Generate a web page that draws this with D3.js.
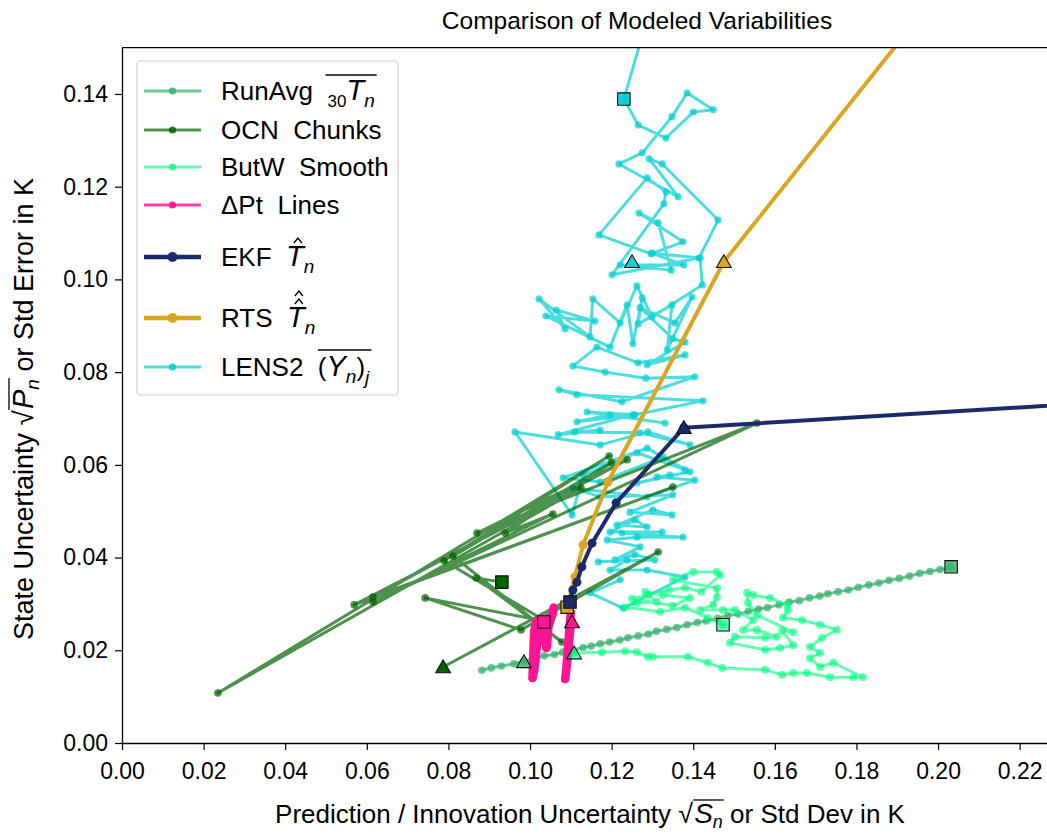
<!DOCTYPE html>
<html>
<head>
<meta charset="utf-8">
<script src="https://cdn.jsdelivr.net/npm/d3@7"></script>
<style>
  body { margin: 0; background: #fff; }
  text { font-family: "Liberation Sans", Arial, sans-serif; fill: #000; }
</style>
</head>
<body>
<svg id="chart" width="1047" height="834"></svg>
<script>
// ---- data (x = sqrt(S_n) / std dev, y = sqrt(P_n) / std error, K)
const xTicks = [0, 0.02, 0.04, 0.06, 0.08, 0.10, 0.12, 0.14, 0.16, 0.18, 0.20, 0.22];
const yTicks = [0, 0.02, 0.04, 0.06, 0.08, 0.10, 0.12, 0.14];
const xDomain = [0, 0.2267];
const yDomain = [0, 0.15];

const runAvg = [
  [0.0882,0.0157],[0.0905,0.0162],[0.0930,0.0166],[0.0960,0.0171],[0.0985,0.0177],[0.1010,0.0182],
  [0.1035,0.0188],[0.1060,0.0191],[0.1080,0.0196],[0.1105,0.0200],[0.1130,0.0206],[0.1150,0.0209],
  [0.1172,0.0214],[0.1195,0.0218],[0.1220,0.0222],[0.1240,0.0227],[0.1265,0.0231],[0.1290,0.0235],
  [0.1310,0.0241],[0.1335,0.0245],[0.1360,0.0249],[0.1385,0.0255],[0.1410,0.0260],[0.1432,0.0263],
  [0.1460,0.0269],[0.1485,0.0275],[0.1510,0.0278],[0.1535,0.0284],[0.1560,0.0289],[0.1582,0.0292],
  [0.1610,0.0298],[0.1635,0.0304],[0.1660,0.0307],[0.1685,0.0313],[0.1710,0.0317],[0.1730,0.0322],
  [0.1755,0.0326],[0.1780,0.0330],[0.1805,0.0336],[0.1830,0.0341],[0.1855,0.0345],[0.1880,0.0351],
  [0.1905,0.0355],[0.1930,0.0360],[0.1955,0.0366],[0.1980,0.0370],[0.2005,0.0374],[0.2032,0.0380]
];
const runAvgStart = [0.0985, 0.0175], runAvgEnd = [0.2032, 0.0380];

const ocnChunks = [
  [0.0787,0.0164],[0.1314,0.0412],[0.0978,0.0244],[0.0743,0.0313],[0.1040,0.0262],[0.0789,0.0393],
  [0.1194,0.0619],[0.0235,0.0108],[0.1125,0.0550],[0.0569,0.0298],[0.1350,0.0552],[0.0615,0.0315],
  [0.1238,0.0611],[0.0870,0.0453],[0.1556,0.0690],[0.0615,0.0304],[0.1056,0.0494],[0.0939,0.0453],
  [0.1200,0.0605],[0.0811,0.0403],[0.1078,0.0218],[0.0868,0.0356],[0.0931,0.0347]
];
const ocnStart = [0.0787, 0.0164], ocnEnd = [0.0931, 0.0347];

const butwSmooth = [
  [0.1108,0.0194],[0.1176,0.0196],[0.1233,0.0198],[0.1262,0.0196],[0.1289,0.0186],[0.1301,0.0186],
  [0.1387,0.0186],[0.1436,0.0173],[0.1471,0.0162],[0.1576,0.0158],[0.1618,0.0147],[0.1645,0.0151],
  [0.1679,0.0151],[0.1735,0.0142],[0.1792,0.0142],[0.1816,0.0142],[0.1743,0.0173],[0.1711,0.0164],
  [0.1686,0.0183],[0.1711,0.0194],[0.1686,0.0207],[0.1716,0.0227],[0.1752,0.0244],[0.1711,0.0255],
  [0.1667,0.0265],[0.1620,0.0270],[0.1632,0.0287],[0.1630,0.0298],[0.1588,0.0313],[0.1547,0.0319],
  [0.1532,0.0324],[0.1534,0.0302],[0.1556,0.0276],[0.1645,0.0239],[0.1618,0.0242],[0.1645,0.0211],
  [0.1613,0.0205],[0.1576,0.0201],[0.1490,0.0216],[0.1502,0.0229],[0.1576,0.0227],[0.1605,0.0229],
  [0.1556,0.0244],[0.1522,0.0244],[0.1547,0.0265],[0.1502,0.0287],[0.1473,0.0287],[0.1417,0.0287],
  [0.1449,0.0298],[0.1458,0.0315],[0.1458,0.0334],[0.1350,0.0352],[0.1400,0.0369],[0.1458,0.0369],
  [0.1466,0.0362],[0.1420,0.0326],[0.1380,0.0335],[0.1340,0.0330],[0.1290,0.0320],[0.1250,0.0311],
  [0.1350,0.0296],[0.1392,0.0313],[0.1326,0.0319],[0.1282,0.0326],[0.1311,0.0304],[0.1262,0.0302],
  [0.1233,0.0293],[0.1319,0.0283],[0.1380,0.0292],[0.1436,0.0270],[0.1473,0.0255]
];
const butwStart = [0.1108, 0.0194], butwEnd = [0.1473, 0.0255];

const deltaPtA = [
  [0.1058,0.0292],[0.1052,0.0270],[0.1045,0.0250],[0.1043,0.0230],[0.1042,0.0210],[0.1040,0.0205],
  [0.1036,0.0225],[0.1025,0.0250],[0.1015,0.0262],[0.1010,0.0240],[0.1009,0.0215],[0.1008,0.0190],
  [0.1007,0.0165],[0.1006,0.0140],[0.1010,0.0155],[0.1014,0.0185],[0.1018,0.0220],[0.1030,0.0245],
  [0.1048,0.0262],[0.1056,0.0280]
];
const deltaPtB = [
  [0.1100,0.0282],[0.1098,0.0262],[0.1096,0.0240],[0.1094,0.0218],[0.1092,0.0195],[0.1090,0.0172],
  [0.1088,0.0150],[0.1086,0.0138],[0.1089,0.0158],[0.1092,0.0185],[0.1095,0.0212],[0.1098,0.0240],
  [0.1101,0.0265]
];
const deltaPtEnd = [0.1034, 0.0261], deltaPtStart = [0.1103, 0.0261];

const ekf = [
  [0.2600,0.0745],[0.1377,0.0680],[0.1211,0.0518],[0.1152,0.0431],[0.1127,0.0380],
  [0.1115,0.0347],[0.1105,0.0330],[0.1098,0.0304]
];
const ekfStart = [0.1377, 0.0680], ekfEnd = [0.1098, 0.0304];

const rts = [
  [0.1091,0.0293],[0.1110,0.0358],[0.1130,0.0427],[0.1191,0.0563],[0.1475,0.1038],[0.2000,0.1618]
];
const rtsStart = [0.1475, 0.1038], rtsEnd = [0.1091, 0.0293];

const lens2 = [
  [0.1272,0.1517],[0.1230,0.1389],[0.1265,0.1333],[0.1333,0.1305],[0.1400,0.1361],[0.1449,0.1366],
  [0.1385,0.1402],[0.1348,0.1351],[0.1275,0.1273],[0.1218,0.1249],[0.1363,0.1178],[0.1292,0.1260],
  [0.1324,0.1249],[0.1461,0.1128],[0.1414,0.1046],[0.1201,0.1010],[0.1328,0.1163],[0.1333,0.1189],
  [0.1287,0.1219],[0.1169,0.1096],[0.1297,0.1055],[0.1375,0.1081],[0.1267,0.1143],[0.1314,0.1122],
  [0.1346,0.1020],[0.1221,0.1031],[0.1377,0.1031],[0.1299,0.1057],[0.1417,0.1046],[0.1422,0.0988],
  [0.1299,0.0919],[0.1262,0.0986],[0.1221,0.0906],[0.1154,0.0958],[0.1147,0.0876],[0.1022,0.0958],
  [0.1086,0.0893],[0.1064,0.0934],[0.1159,0.0910],[0.1039,0.0921],[0.1196,0.0854],[0.1238,0.0945],
  [0.1252,0.0861],[0.1275,0.0960],[0.1265,0.0904],[0.1348,0.0945],[0.1336,0.0848],[0.1397,0.0962],
  [0.1355,0.0906],[0.1270,0.0939],[0.1350,0.0872],[0.1380,0.0865],[0.1287,0.0816],[0.1380,0.0837],
  [0.1265,0.0820],[0.1164,0.0854],[0.1105,0.0813],[0.1184,0.0800],[0.1284,0.0787],[0.1404,0.0790],
  [0.1225,0.0736],[0.1071,0.0762],[0.1115,0.0751],[0.1424,0.0738],[0.1257,0.0708],[0.1140,0.0714],
  [0.1331,0.0690],[0.1196,0.0708],[0.1115,0.0693],[0.1252,0.0708],[0.1069,0.0665],[0.1172,0.0675],
  [0.1110,0.0671],[0.1270,0.0669],[0.1392,0.0643],[0.1289,0.0671],[0.1172,0.0643],[0.0963,0.0671],
  [0.1103,0.0492],[0.1130,0.0578],[0.1262,0.0626],[0.1380,0.0589],[0.1287,0.0636],[0.1081,0.0572],
  [0.1172,0.0563],[0.1326,0.0617],[0.1392,0.0585],[0.1262,0.0561],[0.1343,0.0578],[0.1311,0.0574],
  [0.1404,0.0567],[0.1287,0.0531],[0.1105,0.0550],[0.1172,0.0531],[0.1350,0.0535],[0.1245,0.0498],
  [0.1348,0.0492],[0.1301,0.0503],[0.1213,0.0470],[0.1287,0.0466],[0.1257,0.0481],[0.1196,0.0455],
  [0.1324,0.0455],[0.1225,0.0453],[0.1375,0.0444],[0.1262,0.0444],[0.1189,0.0438],[0.1270,0.0423],
  [0.1208,0.0395],[0.1257,0.0406],[0.1306,0.0395],[0.1167,0.0391],[0.1238,0.0395],[0.1196,0.0373],
  [0.1287,0.0373],[0.1380,0.0358],[0.1228,0.0291],[0.1147,0.0324],[0.1221,0.0352]
];
const lens2Start = [0.1250, 0.1038], lens2End = [0.1230, 0.1389];

// ---- chart setup
const svg = d3.select('#chart');
const plot = {left: 122, right: 1047, top: 47.6, bottom: 743};

const x = d3.scaleLinear().domain(xDomain).range([plot.left, plot.right]);
const y = d3.scaleLinear().domain(yDomain).range([plot.bottom, plot.top]);

svg.append('defs').append('clipPath').attr('id', 'clip')
  .append('rect')
  .attr('x', plot.left).attr('y', plot.top)
  .attr('width', plot.right - plot.left).attr('height', plot.bottom - plot.top);

const line = d3.line().x(d => x(d[0])).y(d => y(d[1]));
const marks = svg.append('g').attr('clip-path', 'url(#clip)');

// draw one series: polyline plus small round markers
function series(data, color, width, alpha, r) {
  const g = marks.append('g');
  g.append('path')
   .datum(data)
   .attr('d', line)
   .attr('fill', 'none')
   .attr('stroke', color)
   .attr('stroke-width', width)
   .attr('stroke-opacity', alpha)
   .attr('stroke-linejoin', 'round')
   .attr('stroke-linecap', 'round');
  g.selectAll('circle')
   .data(data)
   .enter()
   .append('circle')
   .attr('cx', d => x(d[0]))
   .attr('cy', d => y(d[1]))
   .attr('r', r)
   .attr('fill', color)
   .attr('fill-opacity', alpha);
}

const C = {
  runAvg: '#3CB371', ocn: '#006400', butw: '#00FF7F', dpt: '#FF1493',
  ekf: '#1c2a6b', rts: '#DAA520', lens: '#00CED1'
};

series(lens2, C.lens, 3, 0.7, 3.6);
series(runAvg, C.runAvg, 3, 0.75, 3.8);
series(ocnChunks, C.ocn, 3, 0.7, 3.8);
series(butwSmooth, C.butw, 3, 0.6, 4);
series(deltaPtA, C.dpt, 8.5, 1, 4);
series(deltaPtB, C.dpt, 8.5, 1, 4);
series(rts, C.rts, 4, 1, 4.5);
series(ekf, C.ekf, 4, 1, 4.5);

// start (triangle) and end (square) markers
const startEnd = [
  {p: runAvgStart, shape: 'tri', c: C.runAvg, a: 0.85}, {p: runAvgEnd, shape: 'sq', c: C.runAvg, a: 0.85},
  {p: ocnStart, shape: 'tri', c: C.ocn, a: 1}, {p: ocnEnd, shape: 'sq', c: C.ocn, a: 1},
  {p: butwStart, shape: 'tri', c: C.butw, a: 0.6}, {p: butwEnd, shape: 'sq', c: C.butw, a: 0.6},
  {p: deltaPtEnd, shape: 'sq', c: C.dpt, a: 1}, {p: deltaPtStart, shape: 'tri', c: C.dpt, a: 1},
  {p: lens2Start, shape: 'tri', c: C.lens, a: 0.9}, {p: lens2End, shape: 'sq', c: C.lens, a: 0.9},
  {p: rtsStart, shape: 'tri', c: C.rts, a: 1}, {p: rtsEnd, shape: 'sq', c: C.rts, a: 1},
  {p: ekfStart, shape: 'tri', c: C.ekf, a: 1}, {p: ekfEnd, shape: 'sq', c: C.ekf, a: 1}
];
const triSym = d3.symbol().type(d3.symbolTriangle).size(95);
const sqSym = d3.symbol().type(d3.symbolSquare).size(155);
marks.append('g')
  .selectAll('path')
  .data(startEnd)
  .enter()
  .append('path')
  .attr('transform', d => `translate(${x(d.p[0])},${y(d.p[1]) + (d.shape === 'tri' ? 1.5 : 0)})`)
  .attr('d', d => d.shape === 'tri' ? triSym() : sqSym())
  .attr('fill', d => d.c)
  .attr('fill-opacity', d => d.a)
  .attr('stroke', '#111')
  .attr('stroke-width', 1.1);

// ---- axes
const xAxis = d3.axisBottom(x).tickValues(xTicks).tickFormat(d3.format('.2f'))
  .tickSize(7).tickPadding(13).tickSizeOuter(0);
const yAxis = d3.axisLeft(y).tickValues(yTicks).tickFormat(d3.format('.2f'))
  .tickSize(7).tickPadding(7).tickSizeOuter(0);

const gx = svg.append('g').attr('transform', `translate(0,${plot.bottom})`).call(xAxis);
const gy = svg.append('g').attr('transform', `translate(${plot.left},0)`).call(yAxis);
[gx, gy].forEach(g => {
  g.selectAll('text').style('font-size', '23px').style('font-family', '"Liberation Sans", Arial, sans-serif');
  g.selectAll('line').attr('stroke', '#000').attr('stroke-width', 1.2);
  g.select('.domain').attr('stroke', '#000').attr('stroke-width', 1.3);
});
svg.append('line')
  .attr('x1', plot.left).attr('x2', plot.right)
  .attr('y1', plot.top).attr('y2', plot.top)
  .attr('stroke', '#000').attr('stroke-width', 1.3);

// ---- text helpers (mathtext-ish pieces laid out left to right)
function rich(parent, parts) {
  const g = parent.append('g');
  let cx = 0;
  const spans = [];
  parts.forEach(p => {
    const x0 = cx + (p.dx || 0);
    const t = g.append('text')
      .attr('x', x0)
      .attr('y', p.dy || 0)
      .style('font-size', p.size + 'px')
      .style('font-style', p.italic ? 'italic' : 'normal')
      .style('white-space', 'pre')
      .text(p.t);
    const w = t.node().getComputedTextLength();
    spans.push({x0: x0, x1: x0 + w});
    cx = x0 + w;
  });
  return {g: g, spans: spans, width: cx};
}
function overline(r, i0, i1, yy, dx0, dx1) {
  r.g.append('line')
    .attr('x1', r.spans[i0].x0 + (dx0 || 0)).attr('x2', r.spans[i1].x1 + (dx1 || 0))
    .attr('y1', yy).attr('y2', yy)
    .attr('stroke', '#000').attr('stroke-width', 1.3);
}
// small circumflex accent drawn as a path
function hat(r, i, yy) {
  const cx = (r.spans[i].x0 + r.spans[i].x1) / 2 + 3;
  r.g.append('path')
    .attr('d', `M${cx - 4},${yy + 3} L${cx},${yy - 2} L${cx + 4},${yy + 3}`)
    .attr('fill', 'none').attr('stroke', '#000').attr('stroke-width', 1.4);
}

// ---- title
svg.append('text')
  .attr('x', 637)
  .attr('y', 29)
  .attr('text-anchor', 'middle')
  .style('font-size', '24.5px')
  .text('Comparison of Modeled Variabilities');

// ---- x label
const xl = rich(svg, [
  {t: 'Prediction / Innovation Uncertainty ', size: 26},
  {t: '\u221A', size: 27},
  {t: 'S', size: 28, italic: true, dx: 1},
  {t: 'n', size: 18, italic: true, dy: 5},
  {t: ' or Std Dev in K', size: 26}
]);
overline(xl, 2, 3, -23, -1, 1);
xl.g.attr('transform', `translate(${590 - xl.width / 2},823)`);

// ---- y label
const yl = rich(svg, [
  {t: 'State Uncertainty ', size: 27},
  {t: '\u221A', size: 28},
  {t: 'P', size: 29, italic: true, dx: 1},
  {t: 'n', size: 19, italic: true, dy: 6},
  {t: ' or Std Error in K', size: 27}
]);
overline(yl, 2, 3, -24, -1, 1);
yl.g.attr('transform', `translate(33,409) rotate(-90) translate(${-yl.width / 2},0)`);

// ---- legend
const legend = svg.append('g');
legend.append('rect')
  .attr('x', 137).attr('y', 61).attr('width', 261).attr('height', 334).attr('rx', 4)
  .attr('fill', '#fff').attr('fill-opacity', 0.85)
  .attr('stroke', '#d0d0d0').attr('stroke-width', 1.2);

const LS = 26;
const legendRows = [
  {c: C.runAvg, a: 0.75, w: 3, r: 3.6, y: 91},
  {c: C.ocn, a: 0.7, w: 3, r: 3.6, y: 130},
  {c: C.butw, a: 0.6, w: 3, r: 3.6, y: 167},
  {c: C.dpt, a: 0.8, w: 3, r: 3.6, y: 205},
  {c: C.ekf, a: 1, w: 4.5, r: 5, y: 257},
  {c: C.rts, a: 1, w: 4.5, r: 5, y: 318},
  {c: C.lens, a: 0.7, w: 3, r: 3.6, y: 367}
];
legendRows.forEach(d => {
  legend.append('line')
    .attr('x1', 144).attr('x2', 201).attr('y1', d.y).attr('y2', d.y)
    .attr('stroke', d.c).attr('stroke-width', d.w).attr('stroke-opacity', d.a);
  legend.append('circle')
    .attr('cx', 172.5).attr('cy', d.y).attr('r', d.r)
    .attr('fill', d.c).attr('fill-opacity', Math.min(1, d.a + 0.15));
});

function legendText(parts, rowY) {
  const r = rich(legend, parts);
  r.g.attr('transform', `translate(221,${rowY + 9})`);
  return r;
}
const l1 = legendText([
  {t: 'RunAvg  ', size: LS},
  {t: '30', size: 17, dy: 7},
  {t: 'T', size: 29, italic: true},
  {t: 'n', size: 19, italic: true, dy: 7}
], 91);
overline(l1, 1, 3, -25, -2, 2);
legendText([{t: 'OCN  Chunks', size: LS}], 130);
legendText([{t: 'ButW  Smooth', size: LS}], 167);
legendText([{t: '\u0394Pt  Lines', size: LS}], 205);
const l5 = legendText([
  {t: 'EKF  ', size: LS},
  {t: 'T', size: 29, italic: true},
  {t: 'n', size: 19, italic: true, dy: 7}
], 257);
hat(l5, 1, -26);
const l6 = legendText([
  {t: 'RTS  ', size: LS},
  {t: 'T', size: 29, italic: true},
  {t: 'n', size: 19, italic: true, dy: 7}
], 318);
hat(l6, 1, -26);
hat(l6, 1, -34);
const l7 = legendText([
  {t: 'LENS2  ', size: LS},
  {t: '(', size: LS},
  {t: 'Y', size: 29, italic: true},
  {t: 'n', size: 19, italic: true, dy: 7},
  {t: ')', size: LS},
  {t: 'j', size: 19, italic: true, dy: 8}
], 367);
overline(l7, 1, 5, -26, 0, 2);
</script>
</body>
</html>
